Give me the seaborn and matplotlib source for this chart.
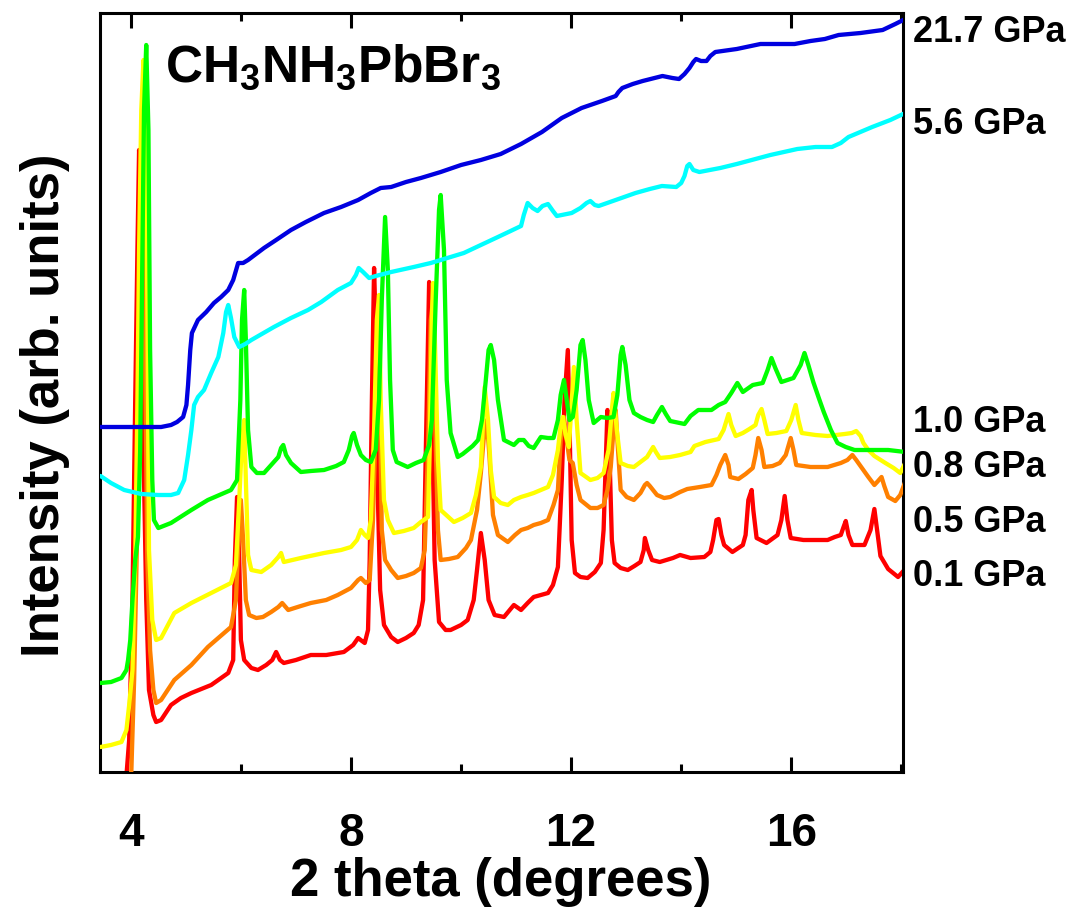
import matplotlib
matplotlib.use("Agg")
import matplotlib.pyplot as plt
from matplotlib.ticker import MultipleLocator
import seaborn as sns
import pandas as pd

sns.set_style("ticks")
plt.rcParams['font.family'] = ['Liberation Sans', 'DejaVu Sans']
plt.rcParams['mathtext.fontset'] = 'custom'
plt.rcParams['mathtext.rm'] = 'Liberation Sans'
plt.rcParams['mathtext.bf'] = 'Liberation Sans:bold'
plt.rcParams['text.color'] = 'black'
plt.rcParams['xtick.color'] = 'black'
plt.rcParams['xtick.labelcolor'] = 'black'
plt.rcParams['axes.edgecolor'] = 'black'

pressures = ["0.1 GPa", "0.5 GPa", "0.8 GPa", "1.0 GPa", "5.6 GPa", "21.7 GPa"]
colors = ["#ff0000", "#ff8000", "#ffff00", "#00ff00", "#00ffff", "#0000e0"]

# ---- 0.1 GPa (red) ----
x_01 = [3.90,3.97,4.03,4.08,4.12,4.15,4.19,4.23,4.28,4.33,
        4.41,4.46,4.55,4.73,4.91,5.10,5.46,5.77,5.86,5.89,
        5.93,5.97,6.00,6.06,6.19,6.31,6.46,6.57,6.64,6.71,
        6.78,7.00,7.27,7.55,7.87,8.04,8.13,8.20,8.25,8.31,
        8.34,8.38,8.42,8.45,8.49,8.53,8.60,8.73,8.85,9.00,
        9.14,9.23,9.31,9.36,9.42,9.47,9.52,9.60,9.72,9.81,
        10.00,10.12,10.23,10.29,10.36,10.43,10.50,10.61,10.78,10.87,
        10.96,11.09,11.21,11.32,11.45,11.58,11.67,11.76,11.83,11.88,
        11.94,11.97,12.01,12.07,12.17,12.30,12.43,12.54,12.59,12.63,
        12.66,12.70,12.74,12.79,12.90,13.03,13.15,13.26,13.32,13.34,
        13.40,13.47,13.61,13.85,13.98,14.17,14.42,14.53,14.58,14.64,
        14.68,14.73,14.78,14.93,15.12,15.17,15.22,15.28,15.31,15.37,
        15.55,15.75,15.82,15.88,15.93,15.99,16.22,16.66,16.79,16.90,
        16.95,16.99,17.04,17.11,17.33,17.44,17.51,17.56,17.62,17.76,
        17.94,18.07]
y_01 = [-18,32,172,372,522,622,572,322,172,82,
        57,50,52,67,74,79,87,99,112,212,
        275,212,132,112,104,102,107,112,120,112,
        109,112,117,117,120,127,134,131,129,142,
        212,372,504,442,272,182,147,135,130,134,
        139,147,172,322,490,372,212,150,142,142,
        147,152,172,202,239,212,172,157,155,161,
        167,162,169,175,177,179,187,205,292,372,
        422,352,232,199,195,194,200,209,242,312,
        362,312,232,209,204,202,206,210,222,234,
        222,212,210,214,217,214,215,220,232,252,
        253,237,227,220,227,237,272,282,262,234,
        229,237,252,276,252,234,232,232,235,237,
        245,251,237,227,227,242,263,242,216,203,
        195,203]

# ---- 0.5 GPa (orange) ----
x_05 = [3.97,4.01,4.06,4.12,4.15,4.19,4.23,4.26,4.30,4.35,
        4.41,4.46,4.55,4.79,5.10,5.40,5.82,5.91,5.97,6.00,
        6.04,6.09,6.15,6.28,6.40,6.55,6.68,6.75,6.86,7.09,
        7.27,7.55,7.76,8.00,8.13,8.18,8.27,8.34,8.40,8.45,
        8.49,8.53,8.56,8.62,8.73,8.85,9.00,9.14,9.27,9.34,
        9.40,9.45,9.49,9.52,9.58,9.63,9.78,9.94,10.09,10.18,
        10.29,10.36,10.41,10.47,10.52,10.58,10.67,10.85,10.98,11.09,
        11.21,11.32,11.45,11.58,11.68,11.76,11.81,11.87,11.92,11.97,
        12.03,12.10,12.17,12.35,12.48,12.59,12.66,12.72,12.77,12.81,
        12.84,12.90,13.01,13.14,13.26,13.34,13.38,13.43,13.56,13.69,
        13.80,13.98,14.11,14.34,14.55,14.64,14.71,14.80,14.86,14.89,
        15.04,15.17,15.30,15.35,15.40,15.46,15.51,15.66,15.79,15.90,
        15.99,16.04,16.09,16.35,16.66,16.90,17.02,17.11,17.18,17.27,
        17.40,17.51,17.56,17.64,17.69,17.76,17.89,17.98,18.07]
y_05 = [-28,2,92,252,392,522,572,422,212,122,
        82,69,72,92,107,125,145,172,252,272,
        232,172,157,154,155,160,165,169,162,166,
        169,172,177,184,192,194,189,192,252,352,
        442,352,242,212,202,194,196,199,204,222,
        322,452,472,372,242,212,213,215,224,232,
        262,299,332,352,312,257,237,230,237,242,
        244,247,249,252,267,282,332,355,332,312,
        309,287,272,264,264,267,282,305,342,362,
        332,282,275,272,279,287,289,286,277,274,
        275,280,283,285,287,297,307,317,307,295,
        293,298,304,317,334,322,305,306,309,317,
        334,322,307,305,305,309,312,317,312,305,
        295,287,290,295,286,275,271,277,290]

# ---- 0.8 GPa (yellow) ----
x_08 = [3.45,3.64,3.83,3.92,3.97,4.03,4.08,4.12,4.15,4.19,
        4.23,4.26,4.30,4.33,4.39,4.46,4.55,4.79,5.10,5.46,
        5.82,5.91,5.97,6.02,6.06,6.09,6.13,6.19,6.37,6.55,
        6.68,6.73,6.78,7.09,7.51,7.82,8.00,8.11,8.18,8.25,
        8.31,8.36,8.42,8.47,8.51,8.54,8.60,8.67,8.78,8.96,
        9.14,9.27,9.40,9.43,9.47,9.49,9.52,9.58,9.63,9.69,
        9.87,10.03,10.18,10.27,10.36,10.40,10.43,10.49,10.54,10.60,
        10.72,10.85,10.96,11.09,11.21,11.32,11.45,11.58,11.67,11.76,
        11.81,11.85,11.90,11.96,11.99,12.05,12.10,12.17,12.35,12.48,
        12.59,12.68,12.74,12.77,12.83,12.90,13.03,13.14,13.26,13.38,
        13.49,13.54,13.61,13.80,13.98,14.17,14.24,14.44,14.68,14.77,
        14.86,14.91,14.99,15.12,15.24,15.35,15.40,15.46,15.51,15.57,
        15.73,15.91,16.00,16.08,16.13,16.19,16.44,16.66,16.97,17.10,
        17.18,17.26,17.31,17.40,17.51,17.71,17.86,17.98,18.07]
y_08 = [25,27,30,42,67,102,212,372,522,662,
        712,682,472,222,152,132,134,159,169,179,
        189,207,272,332,352,292,217,202,200,207,
        215,219,210,214,219,222,225,232,242,237,
        234,252,342,452,477,372,272,252,239,241,
        244,250,255,322,452,489,442,312,262,259,
        250,254,259,277,305,352,385,352,302,275,
        269,267,272,275,277,279,282,285,297,322,
        347,355,337,325,352,405,352,299,292,294,
        299,322,362,379,342,309,306,305,310,315,
        325,320,314,315,317,320,326,330,333,342,
        358,347,336,339,343,347,357,363,352,338,
        339,341,352,367,352,339,337,336,338,339,
        341,336,329,322,316,309,304,299,309]

# ---- 1.0 GPa (green) ----
x_10 = [3.45,3.64,3.83,3.92,3.95,3.99,4.03,4.08,4.13,4.17,
        4.21,4.24,4.28,4.32,4.35,4.39,4.42,4.50,4.73,5.10,
        5.40,5.82,5.93,5.99,6.02,6.06,6.09,6.13,6.19,6.29,
        6.42,6.55,6.68,6.73,6.77,6.82,6.91,7.09,7.27,7.51,
        7.73,7.87,7.96,8.02,8.05,8.11,8.18,8.27,8.36,8.45,
        8.51,8.56,8.62,8.67,8.71,8.76,8.83,9.03,9.18,9.32,
        9.42,9.47,9.54,9.60,9.63,9.69,9.74,9.81,9.94,10.03,
        10.12,10.21,10.31,10.38,10.45,10.50,10.54,10.60,10.67,10.78,
        10.96,11.05,11.14,11.23,11.32,11.45,11.58,11.68,11.76,11.81,
        11.87,11.92,11.97,12.03,12.10,12.17,12.21,12.26,12.32,12.41,
        12.54,12.66,12.77,12.84,12.90,12.93,12.99,13.06,13.14,13.26,
        13.38,13.49,13.56,13.65,13.72,13.80,14.06,14.17,14.31,14.55,
        14.68,14.80,14.91,15.02,15.12,15.30,15.48,15.57,15.64,15.71,
        15.82,16.04,16.17,16.24,16.31,16.40,16.50,16.59,16.72,16.84,
        16.99,17.15,17.46,17.76,18.07]
y_10 = [89,90,94,102,112,132,172,212,235,322,
        522,662,727,642,422,292,252,244,249,262,
        272,282,292,372,452,482,432,342,305,299,
        299,307,315,324,327,317,309,300,301,302,
        306,310,322,336,339,327,317,312,310,322,
        372,472,555,502,392,322,310,305,309,312,
        327,352,472,562,577,522,392,339,315,318,
        322,326,332,352,392,422,427,412,372,332,
        327,332,332,326,324,335,334,334,352,377,
        392,372,352,355,382,427,432,412,372,349,
        355,354,355,377,417,425,407,372,359,355,
        352,350,357,365,358,351,348,356,362,362,
        367,370,379,389,380,387,389,402,414,404,
        390,394,407,419,407,390,374,360,342,329,
        325,322,322,322,320]

# ---- 5.6 GPa (cyan) ----
x_56 = [3.45,3.64,3.88,4.19,4.50,4.73,4.86,4.97,5.04,5.10,
        5.15,5.22,5.33,5.46,5.59,5.68,5.73,5.77,5.82,5.88,
        5.97,6.08,6.19,6.60,6.91,7.22,7.46,7.76,8.00,8.09,
        8.14,8.22,8.33,8.45,8.73,9.14,9.45,10.05,10.36,10.67,
        10.90,11.09,11.14,11.21,11.30,11.39,11.48,11.58,11.67,11.74,
        12.01,12.17,12.28,12.35,12.43,12.50,12.81,13.17,13.43,13.65,
        13.91,14.00,14.06,14.11,14.15,14.22,14.33,14.71,15.01,15.62,
        16.11,16.44,16.74,16.90,17.04,17.47,17.80,18.07]
y_56 = [296,289,282,278,277,277,279,292,317,342,
        367,375,382,399,415,439,460,467,454,435,
        425,428,432,445,454,462,470,482,489,497,
        504,500,494,496,500,505,509,519,527,535,
        541,546,557,569,564,561,566,568,561,556,
        559,564,569,571,567,566,572,579,583,586,
        585,589,596,606,608,602,600,604,608,617,
        623,625,625,629,635,645,652,659]

# ---- 21.7 GPa (blue) ----
x_217 = [3.45,4.01,4.55,4.73,4.84,4.95,5.01,5.04,5.08,5.11,
         5.22,5.37,5.51,5.64,5.77,5.86,5.95,6.04,6.13,6.42,
         6.64,6.91,7.18,7.51,7.82,8.13,8.36,8.54,8.73,9.00,
         9.27,9.63,10.00,10.36,10.72,11.09,11.47,11.83,12.19,12.56,
         12.81,12.86,12.93,13.12,13.30,13.66,13.84,13.96,14.06,14.15,
         14.22,14.27,14.36,14.46,14.53,14.62,15.01,15.44,16.06,16.35,
         16.61,16.86,17.26,17.66,17.89,18.07]
y_217 = [345,345,345,347,350,355,367,387,422,439,
         452,460,469,475,482,492,509,509,512,524,
         532,542,550,559,565,572,579,584,585,590,
         594,600,607,612,618,628,640,654,664,671,
         676,680,684,688,691,696,694,693,698,704,
         710,713,711,711,716,720,723,728,728,731,
         733,737,739,742,748,753]

xs = [x_01, x_05, x_08, x_10, x_56, x_217]
ys = [y_01, y_05, y_08, y_10, y_56, y_217]

tick_major = [4, 8, 12, 16]

W, H = 1087, 915
fig = plt.figure(figsize=(W / 100, H / 100), dpi=100)
ax = fig.add_axes([100 / W, 1 - 772 / H, 803 / W, 759 / H])

for i, (p, c) in enumerate(zip(pressures, colors)):
    df = pd.DataFrame({"theta": xs[i], "I": ys[i]})
    sns.lineplot(data=df, x="theta", y="I", ax=ax, color=c, lw=3.1,
                 estimator=None, sort=False, zorder=2 + i)

ax.set_xlim(3.44, 18.03)
ax.set_ylim(0, 759)
ax.set_xticks(tick_major)
ax.set_xticklabels([str(t) for t in tick_major])
ax.xaxis.set_minor_locator(MultipleLocator(2))
ax.set_yticks([])
ax.set_xlabel("")
ax.set_ylabel("")
ax.tick_params(axis='x', which='major', direction='in', length=11, width=2.2,
               top=True, labelsize=33, pad=29, colors='black')
ax.tick_params(axis='x', which='minor', direction='in', length=6, width=2.2,
               top=True, colors='black')
for lab in ax.get_xticklabels():
    lab.set_fontweight('bold')
    lab.set_color('black')
for s in ax.spines.values():
    s.set_linewidth(2.2)
    s.set_color('black')
    s.set_visible(True)

ax.text(0.081, 0.909, r'$\mathbf{CH_3NH_3PbBr_3}$', transform=ax.transAxes,
        fontsize=37, va='baseline', ha='left', zorder=20, color='black')

label_y = [577, 522, 468, 422, 125, 33]
for p, py in zip(pressures, label_y):
    fig.text(913 / W, 1 - py / H, p, fontsize=26, fontweight='bold',
             va='center', ha='left', color='black')

fig.text(501 / W, 1 - 882 / H, "2 theta (degrees)", fontsize=38,
         fontweight='bold', ha='center', va='center', color='black')
fig.text(45 / W, 1 - 405 / H, "Intensity (arb. units)", fontsize=38,
         fontweight='bold', ha='center', va='center', rotation=90, color='black')

fig.savefig("out.png", dpi=100)
